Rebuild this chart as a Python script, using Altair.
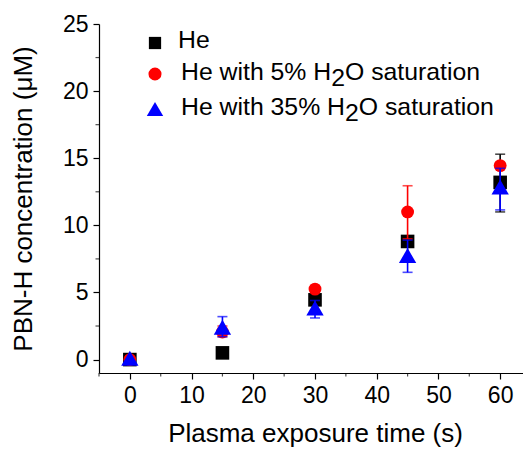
import altair as alt
import pandas as pd

times = [0, 15, 30, 45, 60]
series = ["He", "He with 5% H2O saturation", "He with 35% H2O saturation"]
he_vals = [0.0, 0.5, 4.45, 8.8, 13.2]
h5_vals = [0.0, 2.05, 5.25, 11.0, 14.45]
h35_vals = [0.1, 2.4, 3.85, 7.75, 12.85]
# error bars (low, high); None = not visible
he_lo = [None, None, None, None, 11.0]
he_hi = [None, None, None, None, 15.3]
h5_lo = [None, 1.7, None, 9.0, None]
h5_hi = [None, 2.5, None, 12.95, None]
h35_lo = [None, 1.7, 3.1, 6.5, 11.15]
h35_hi = [None, 3.2, 4.4, 8.9, 14.25]

x_major = [0, 10, 20, 30, 40, 50, 60]
x_minor = [-5, 5, 15, 25, 35, 45, 55]
y_major = [0, 5, 10, 15, 20, 25]
y_minor = [2.5, 7.5, 12.5, 17.5, 22.5]

# legend label pieces: (text before subscript, subscript, text after)
legend_parts = [("He", "", ""),
                ("He with 5% H", "2", "O saturation"),
                ("He with 35% H", "2", "O saturation")]

colors = ["black", "red", "blue"]
shapes = ["square", "circle", "triangle-up"]
sizes = [185, 165, 300]

vals = [he_vals, h5_vals, h35_vals]
los = [he_lo, h5_lo, h35_lo]
his = [he_hi, h5_hi, h35_hi]

W, H = 424, 349
FONT = "Liberation Sans"
LEG_FS = 24.8
# Arial / Liberation Sans advance widths (per 1000 em)
AW = {"H": 722, "e": 556, " ": 278, "w": 722, "i": 222, "t": 278, "h": 556,
      "3": 556, "5": 556, "%": 889, "2": 556, "O": 778, "s": 500, "a": 556,
      "u": 556, "r": 333, "o": 556, "n": 556}


def text_w(s, fs):
    return sum(AW.get(c, 556) for c in s) * fs / 1000.0


xs = alt.Scale(domain=[-5, 63.7], nice=False, zero=False)
ys = alt.Scale(domain=[-1, 25], nice=False, zero=False)

layers = []

axes = alt.Chart(pd.DataFrame({"x": [0], "y": [0]})).mark_point(opacity=0).encode(
    x=alt.X("x:Q", scale=xs, title="Plasma exposure time (s)",
            axis=alt.Axis(values=x_major, tickSize=6,
                          labelFontSize=23, titleFontSize=26,
                          labelPadding=5, titlePadding=13, grid=False, domainColor="black",
                          tickColor="black", labelColor="black", titleColor="black",
                          labelFont=FONT, titleFont=FONT, titleFontWeight="normal",
                          titleX=(W + 8) / 2,
                          domainWidth=1.2, tickWidth=1.2, labelFlush=False, labelOverlap=False)),
    y=alt.Y("y:Q", scale=ys, title="PBN-H concentration (μM)",
            axis=alt.Axis(values=y_major, tickSize=6,
                          labelFontSize=23, titleFontSize=26,
                          labelPadding=5, titlePadding=26, grid=False, domainColor="black",
                          tickColor="black", labelColor="black", titleColor="black",
                          labelFont=FONT, titleFont=FONT, titleFontWeight="normal",
                          domainWidth=1.2, tickWidth=1.2, labelFlush=False, labelOverlap=False)),
)
layers.append(axes)

# minor ticks (outside the axis lines)
layers.append(alt.Chart(pd.DataFrame({"x": x_minor})).mark_tick(
    orient="vertical", size=3.5, thickness=1.2, color="black", clip=False).encode(
    x=alt.X("x:Q", scale=xs), y=alt.value(H + 1.75)))
layers.append(alt.Chart(pd.DataFrame({"y": y_minor})).mark_tick(
    orient="horizontal", size=3.5, thickness=1.2, color="black", clip=False).encode(
    y=alt.Y("y:Q", scale=ys), x=alt.value(-1.75)))

for i, s in enumerate(series):
    df = pd.DataFrame({"t": times, "v": vals[i], "series": s})
    pts = alt.Chart(df).mark_point(filled=True, opacity=1, size=sizes[i], shape=shapes[i],
                                   color=colors[i]).encode(
        x=alt.X("t:Q", scale=xs),
        y=alt.Y("v:Q", scale=ys),
    )
    edf = pd.DataFrame({"t": times, "lo": los[i], "hi": his[i]}).dropna()
    rule = alt.Chart(edf).mark_rule(color=colors[i], strokeWidth=1.6).encode(
        x=alt.X("t:Q", scale=xs), y=alt.Y("lo:Q", scale=ys), y2="hi:Q")
    cap_lo = alt.Chart(edf).mark_tick(color=colors[i], orient="horizontal", size=10, thickness=1.6).encode(
        x=alt.X("t:Q", scale=xs), y=alt.Y("lo:Q", scale=ys))
    cap_hi = alt.Chart(edf).mark_tick(color=colors[i], orient="horizontal", size=10, thickness=1.6).encode(
        x=alt.X("t:Q", scale=xs), y=alt.Y("hi:Q", scale=ys))
    layers += [pts, rule, cap_lo, cap_hi]

# manual legend (positions in plot-area pixels)
sym_x = 56
sym_y = [19, 50, 85]
text_x = [79, 82, 82]
base_y = [24, 56, 91]
for i, s in enumerate(series):
    sym = alt.Chart(pd.DataFrame({"series": [s]})).mark_point(
        filled=True, opacity=1, shape=shapes[i], color=colors[i],
        size=[150, 170, 270][i]).encode(x=alt.value(sym_x), y=alt.value(sym_y[i]))
    layers.append(sym)
    a, sub, b = legend_parts[i]
    tdf = pd.DataFrame({"txt": [a]})
    layers.append(alt.Chart(tdf).mark_text(align="left", baseline="alphabetic", font=FONT,
                                           fontSize=LEG_FS, color="black").encode(
        x=alt.value(text_x[i]), y=alt.value(base_y[i]), text="txt:N"))
    if sub:
        x2 = text_x[i] + text_w(a, LEG_FS)
        layers.append(alt.Chart(pd.DataFrame({"txt": [sub]})).mark_text(
            align="left", baseline="alphabetic", font=FONT, fontSize=LEG_FS, color="black").encode(
            x=alt.value(x2), y=alt.value(base_y[i] + 6), text="txt:N"))
        x3 = x2 + text_w(sub, LEG_FS)
        layers.append(alt.Chart(pd.DataFrame({"txt": [b]})).mark_text(
            align="left", baseline="alphabetic", font=FONT, fontSize=LEG_FS, color="black").encode(
            x=alt.value(x3), y=alt.value(base_y[i]), text="txt:N"))

chart = alt.layer(*layers).properties(
    width=W, height=H,
    autosize=alt.AutoSizeParams(type="none"),
    padding={"left": 91, "top": 16, "right": 0, "bottom": 76},
).configure_view(stroke=None)

chart.save("out.html", embed_options={"renderer": "svg", "actions": False})
